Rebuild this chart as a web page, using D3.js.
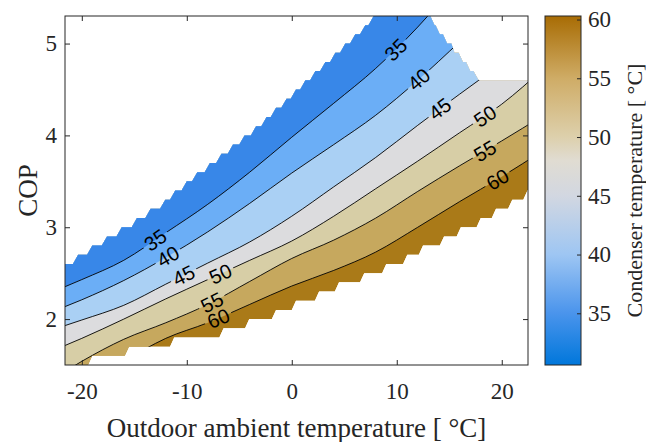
<!DOCTYPE html>
<html>
<head>
<meta charset="utf-8">
<script src="https://cdn.jsdelivr.net/npm/d3@7"></script>
<style>
  body { margin: 0; background: #fff; }
  svg { display: block; }
</style>
</head>
<body>
<div id="wrapper"></div>
<script>
// outdoor temperature grid (degC) on which the contour lines were read
const tempGrid = [-24, -20, -16, -12, -8, -4, 0, 4, 8, 12, 16, 20, 24];
// COP along each condenser temperature contour
const cop35 = [2.24, 2.43, 2.64, 2.94, 3.25, 3.60, 3.98, 4.35, 4.73, 5.18, 5.70, 6.20, 6.70];
const cop40 = [2.03, 2.21, 2.42, 2.67, 2.95, 3.26, 3.59, 3.90, 4.22, 4.60, 5.02, 5.45, 5.90];
const cop45 = [1.84, 1.99, 2.15, 2.38, 2.61, 2.84, 3.12, 3.44, 3.76, 4.11, 4.45, 4.78, 5.10];
const cop50 = [1.60, 1.79, 2.00, 2.22, 2.43, 2.64, 2.85, 3.12, 3.42, 3.72, 4.03, 4.34, 4.73];
const cop55 = [1.25, 1.54, 1.78, 1.96, 2.16, 2.41, 2.66, 2.86, 3.10, 3.39, 3.67, 3.94, 4.22];
const cop60 = [1.00, 1.25, 1.54, 1.79, 1.96, 2.16, 2.36, 2.53, 2.73, 3.00, 3.28, 3.55, 3.84];

const contourLevels = [35, 40, 45, 50, 55, 60];
const contourCops = [cop35, cop40, cop45, cop50, cop55, cop60];
// band colours: <35, 35-40, 40-45, 45-50, 50-55, 55-60, >60
const bandColors = ["#3887e8", "#6baef6", "#aad0f4", "#dcdcde", "#d7cea6", "#c6a85e", "#aa7a18"];
// where the inline labels sit (outdoor temperature)
const labelTempLeft = [-13.0, -11.8, -10.3, -6.8, -7.6, -7.0];
const labelTempRight = [9.9, 12.1, 14.1, 18.4, 18.4, 19.6];

// staircase edges of the region where the model has a solution
const upperStepCop = [2.6, 2.7, 2.8, 2.9, 3.0, 3.1, 3.2, 3.3, 3.4, 3.5, 3.6, 3.7, 3.8, 3.9,
                      4.0, 4.1, 4.2, 4.3, 4.4, 4.5, 4.6, 4.7, 4.8, 4.9, 5.0, 5.1, 5.2];
const upperStepEnd = [-20.85, -19.5, -18.1, -16.7, -15.25, -13.95, -12.55, -11.6, -10.5, -9.5,
                      -8.3, -7.2, -6.1, -5.0, -3.9, -2.9, -2.0, -1.0, -0.1, 0.8, 1.75, 2.7,
                      3.65, 4.6, 5.55, 6.5, 7.3];
const rightStepCop = [5.3, 5.2, 5.1, 5.0, 4.9, 4.8, 4.7];
const rightStepStart = [13.0, 13.6, 14.1, 14.8, 15.5, 16.3, 17.0];
const rightStepEnd = [13.2, 13.7, 14.4, 15.2, 15.9, 16.6, 17.3];
const plateauCop = 4.6;
const plateauStart = 17.8;
const lowerStepCop = [1.5, 1.6, 1.7, 1.8, 1.9, 2.0, 2.1, 2.2, 2.3, 2.4, 2.5, 2.6, 2.7, 2.8,
                      2.9, 3.0, 3.1, 3.2, 3.3];
const lowerStepEnd = [-19.4, -15.9, -11.6, -6.9, -4.45, -1.9, 0.0, 2.2, 4.1, 6.5, 8.6, 10.6,
                      12.1, 14.1, 15.7, 17.6, 19.05, 20.6, 22.05];

const xTicks = [-20, -10, 0, 10, 20];
const yTicks = [2, 3, 4, 5];
const colorbarTicks = [35, 40, 45, 50, 55, 60];
const colorbarStops = [30.6, 35, 40, 45, 48, 50, 55, 60.3];
const colorbarColors = ["#0077db", "#4a94ec", "#9ec6f3", "#d2d7e1", "#e0dcd2", "#ddd0ac", "#cfac66", "#a86c04"];

function drawChart() {
    const width = 646, height = 442;
    const plot = { left: 65, right: 528, top: 16, bottom: 365 };
    const axisColor = "#262626";

    const svg = d3.select("#wrapper").append("svg")
        .attr("width", width)
        .attr("height", height);
    const defs = svg.append("defs");

    const xScale = d3.scaleLinear().domain([-21.6, 22.5]).range([plot.left, plot.right]);
    const yScale = d3.scaleLinear().domain([1.5, 5.3]).range([plot.bottom, plot.top]);

    // outline of the valid region, built from the staircase edges
    const region = [[-23, 1.4], [-23, upperStepCop[0]]];
    upperStepCop.forEach((c, i) => {
        region.push([upperStepEnd[i], c], [upperStepEnd[i] + 0.5, c + 0.1]);
    });
    region.push([region[region.length - 1][0], 5.6], [rightStepStart[0], 5.6]);
    rightStepCop.forEach((c, i) => {
        region.push([rightStepStart[i], c], [rightStepEnd[i], c]);
    });
    region.push([plateauStart, plateauCop], [23, plateauCop], [23, 3.45]);
    for (let i = lowerStepCop.length - 1; i >= 0; i--) {
        region.push([lowerStepEnd[i] + 0.4, lowerStepCop[i] + 0.1], [lowerStepEnd[i], lowerStepCop[i]]);
    }
    region.push([lowerStepEnd[0], 1.4]);

    const regionPath = d3.line()
        .x(d => xScale(d[0]))
        .y(d => yScale(d[1]))(region) + "Z";

    defs.append("clipPath").attr("id", "plot-clip")
        .append("rect")
        .attr("x", plot.left).attr("y", plot.top)
        .attr("width", plot.right - plot.left)
        .attr("height", plot.bottom - plot.top);
    defs.append("clipPath").attr("id", "region-clip")
        .append("path")
        .attr("d", regionPath);

    const plotArea = svg.append("g").attr("clip-path", "url(#plot-clip)");
    const bounds = plotArea.append("g").attr("clip-path", "url(#region-clip)");

    // filled bands: hottest first, then everything above each contour
    bounds.append("path")
        .attr("d", regionPath)
        .attr("fill", bandColors[6]);

    const areaAbove = d3.area()
        .curve(d3.curveMonotoneX)
        .x((d, i) => xScale(tempGrid[i]))
        .y0(yScale(8))
        .y1(d => yScale(d));
    for (let k = contourLevels.length - 1; k >= 0; k--) {
        bounds.append("path")
            .datum(contourCops[k])
            .attr("d", areaAbove)
            .attr("fill", bandColors[k]);
    }

    // contour lines
    const lineGenerator = d3.line()
        .curve(d3.curveMonotoneX)
        .x((d, i) => xScale(tempGrid[i]))
        .y(d => yScale(d));
    const lines = bounds.append("g").attr("mask", "url(#label-gaps)");
    const linePaths = contourCops.map(cops => lines.append("path")
        .datum(cops)
        .attr("d", lineGenerator)
        .attr("fill", "none")
        .attr("stroke", "#000")
        .attr("stroke-width", 0.9)
        .node());

    // inline labels
    const mask = defs.append("mask")
        .attr("id", "label-gaps")
        .attr("maskUnits", "userSpaceOnUse")
        .attr("x", 0).attr("y", 0).attr("width", width).attr("height", height);
    mask.append("rect")
        .attr("width", width).attr("height", height)
        .attr("fill", "#fff");

    const labels = svg.append("g");
    function lengthAtX(node, x) {
        let lo = 0, hi = node.getTotalLength();
        for (let i = 0; i < 40; i++) {
            const mid = (lo + hi) / 2;
            if (node.getPointAtLength(mid).x < x) lo = mid; else hi = mid;
        }
        return lo;
    }
    contourLevels.forEach((level, k) => {
        const node = linePaths[k];
        [labelTempLeft[k], labelTempRight[k]].forEach(t => {
            const s = lengthAtX(node, xScale(t));
            const p = node.getPointAtLength(s);
            const p1 = node.getPointAtLength(Math.max(0, s - 6));
            const p2 = node.getPointAtLength(s + 6);
            const angle = Math.atan2(p2.y - p1.y, p2.x - p1.x) * 180 / Math.PI;
            const text = labels.append("text")
                .attr("transform", `translate(${p.x},${p.y}) rotate(${angle})`)
                .attr("text-anchor", "middle")
                .attr("dy", "0.36em")
                .style("font-family", "'Liberation Sans', Arial, sans-serif")
                .style("font-size", "20px")
                .attr("fill", "#000")
                .text(level);
            const w = text.node().getComputedTextLength() + 6;
            mask.append("rect")
                .attr("x", -w / 2).attr("y", -9)
                .attr("width", w).attr("height", 18)
                .attr("transform", `translate(${p.x},${p.y}) rotate(${angle})`)
                .attr("fill", "#000");
        });
    });

    // axes with inward ticks on all four sides
    const tickFont = "'Liberation Serif', 'Times New Roman', serif";
    const xAxis = svg.append("g")
        .attr("transform", `translate(0,${plot.bottom})`)
        .call(d3.axisBottom(xScale).tickValues(xTicks).tickSizeInner(-5).tickSizeOuter(0)
            .tickPadding(18).tickFormat(d => String(d)));
    const xAxisTop = svg.append("g")
        .attr("transform", `translate(0,${plot.top})`)
        .call(d3.axisTop(xScale).tickValues(xTicks).tickSizeInner(-5).tickSizeOuter(0).tickFormat(""));
    const yAxis = svg.append("g")
        .attr("transform", `translate(${plot.left},0)`)
        .call(d3.axisLeft(yScale).tickValues(yTicks).tickSizeInner(-5).tickSizeOuter(0)
            .tickPadding(8).tickFormat(d => String(d)));
    const yAxisRight = svg.append("g")
        .attr("transform", `translate(${plot.right},0)`)
        .call(d3.axisRight(yScale).tickValues(yTicks).tickSizeInner(-5).tickSizeOuter(0).tickFormat(""));
    [xAxis, xAxisTop, yAxis, yAxisRight].forEach(a => {
        a.select(".domain").remove();
        a.selectAll("line").attr("stroke", axisColor);
        a.selectAll("text")
            .attr("fill", axisColor)
            .style("font-family", tickFont)
            .style("font-size", "23px");
    });
    svg.append("rect")
        .attr("x", plot.left).attr("y", plot.top)
        .attr("width", plot.right - plot.left)
        .attr("height", plot.bottom - plot.top)
        .attr("fill", "none")
        .attr("stroke", axisColor)
        .attr("stroke-width", 1);

    svg.append("text")
        .attr("x", (plot.left + plot.right) / 2)
        .attr("y", 437)
        .attr("text-anchor", "middle")
        .attr("fill", axisColor)
        .style("font-family", tickFont)
        .style("font-size", "27px")
        .text("Outdoor ambient temperature [ \u00b0C]");
    svg.append("text")
        .attr("transform", `translate(37,${(plot.top + plot.bottom) / 2}) rotate(-90)`)
        .attr("text-anchor", "middle")
        .attr("fill", axisColor)
        .style("font-family", tickFont)
        .style("font-size", "27px")
        .text("COP");

    // colour bar
    const cb = { left: 545, right: 581 };
    const cbScale = d3.scaleLinear()
        .domain([colorbarStops[0], colorbarStops[colorbarStops.length - 1]])
        .range([plot.bottom, plot.top]);
    const gradient = defs.append("linearGradient")
        .attr("id", "cb-gradient")
        .attr("x1", 0).attr("y1", 1).attr("x2", 0).attr("y2", 0);
    gradient.selectAll("stop")
        .data(colorbarStops)
        .enter().append("stop")
        .attr("offset", d => (d - colorbarStops[0]) / (colorbarStops[colorbarStops.length - 1] - colorbarStops[0]))
        .attr("stop-color", (d, i) => colorbarColors[i]);
    svg.append("rect")
        .attr("x", cb.left).attr("y", plot.top)
        .attr("width", cb.right - cb.left)
        .attr("height", plot.bottom - plot.top)
        .attr("fill", "url(#cb-gradient)")
        .attr("stroke", axisColor)
        .attr("stroke-width", 1);
    const cbAxis = svg.append("g")
        .attr("transform", `translate(${cb.right},0)`)
        .call(d3.axisRight(cbScale).tickValues(colorbarTicks).tickSizeInner(-4).tickSizeOuter(0).tickPadding(7));
    cbAxis.select(".domain").remove();
    cbAxis.selectAll("line").attr("stroke", axisColor);
    cbAxis.selectAll("text")
        .attr("fill", axisColor)
        .style("font-family", tickFont)
        .style("font-size", "23px");
    svg.append("text")
        .attr("transform", `translate(642,${(plot.top + plot.bottom) / 2}) rotate(-90)`)
        .attr("text-anchor", "middle")
        .attr("fill", axisColor)
        .style("font-family", tickFont)
        .style("font-size", "22px")
        .text("Condenser temperature [ \u00b0C]");
}

drawChart();
</script>
</body>
</html>
